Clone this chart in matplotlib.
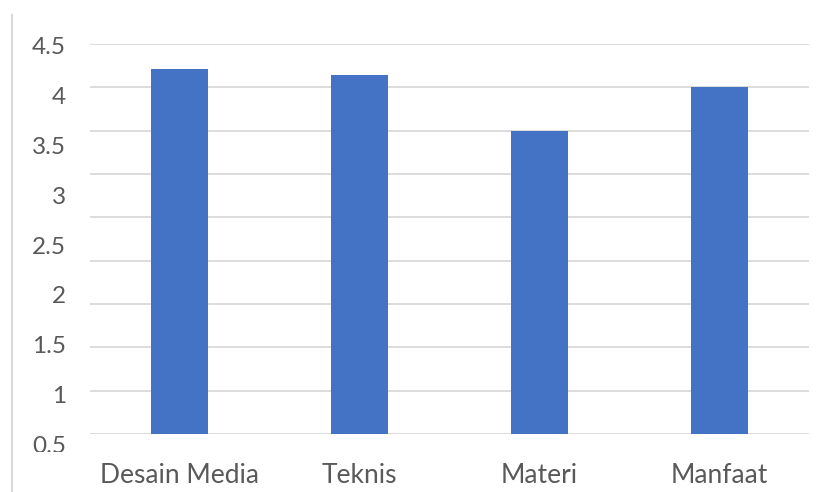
import matplotlib
matplotlib.use("Agg")
import matplotlib.pyplot as plt
from matplotlib.transforms import Bbox, TransformedBbox, blended_transform_factory
from matplotlib.lines import Line2D
import numpy as np

categories = ["Desain Media", "Teknis", "Materi", "Manfaat"]
values = [4.21, 4.14, 3.50, 4.00]
grid_values = [0, 0.5, 1, 1.5, 2, 2.5, 3, 3.5, 4, 4.5]
ytick_labels = ["4.5", "4", "3.5", "3", "2.5", "2", "1.5", "1", "0.5"]

W, H = 829, 492
fig = plt.figure(figsize=(W / 100, H / 100), dpi=100)
fig.patch.set_facecolor("white")
ax = fig.add_axes([90 / W, (H - 434) / H, (809 - 90) / W, (434 - 44) / H])

font = "Lato"
txtcol = "#595959"

x = np.arange(len(categories))
ax.bar(x, values, width=0.317, color="#4472c4", zorder=3)
ax.set_xlim(-0.5, len(categories) - 0.5)
ax.set_ylim(0, 4.5)

for gv in grid_values:
    ax.axhline(gv, color="#d9d9d9", lw=1.3, zorder=1)

for s in ax.spines.values():
    s.set_visible(False)
ax.set_yticks([])
ax.set_xticks(x)
ax.set_xticklabels(categories, fontsize=19, color=txtcol, family=font)
ax.tick_params(axis="x", length=0, pad=21)

# y labels (rendered stretched relative to gridlines in the original)
trans = blended_transform_factory(fig.transFigure, ax.transData)
clip = TransformedBbox(Bbox([[0, 40 / H], [1, 1]]), fig.transFigure)
px = 4.5 / (434 - 44)  # data units per pixel
top_base = 4.5 - 10 * px
step = 49.9 * px
for i, lab in enumerate(ytick_labels):
    ypos = top_base - i * step
    t = ax.text(66 / W, ypos, lab, transform=trans, ha="right", va="baseline",
                fontsize=17.5, color=txtcol, family=font, clip_on=True)
    t.set_clip_box(clip)

fig.add_artist(Line2D([12 / W, 12 / W], [0, (H - 15) / H], transform=fig.transFigure,
                      color="#d9d9d9", lw=1.5))

fig.savefig("out.png", dpi=100, facecolor="white")
